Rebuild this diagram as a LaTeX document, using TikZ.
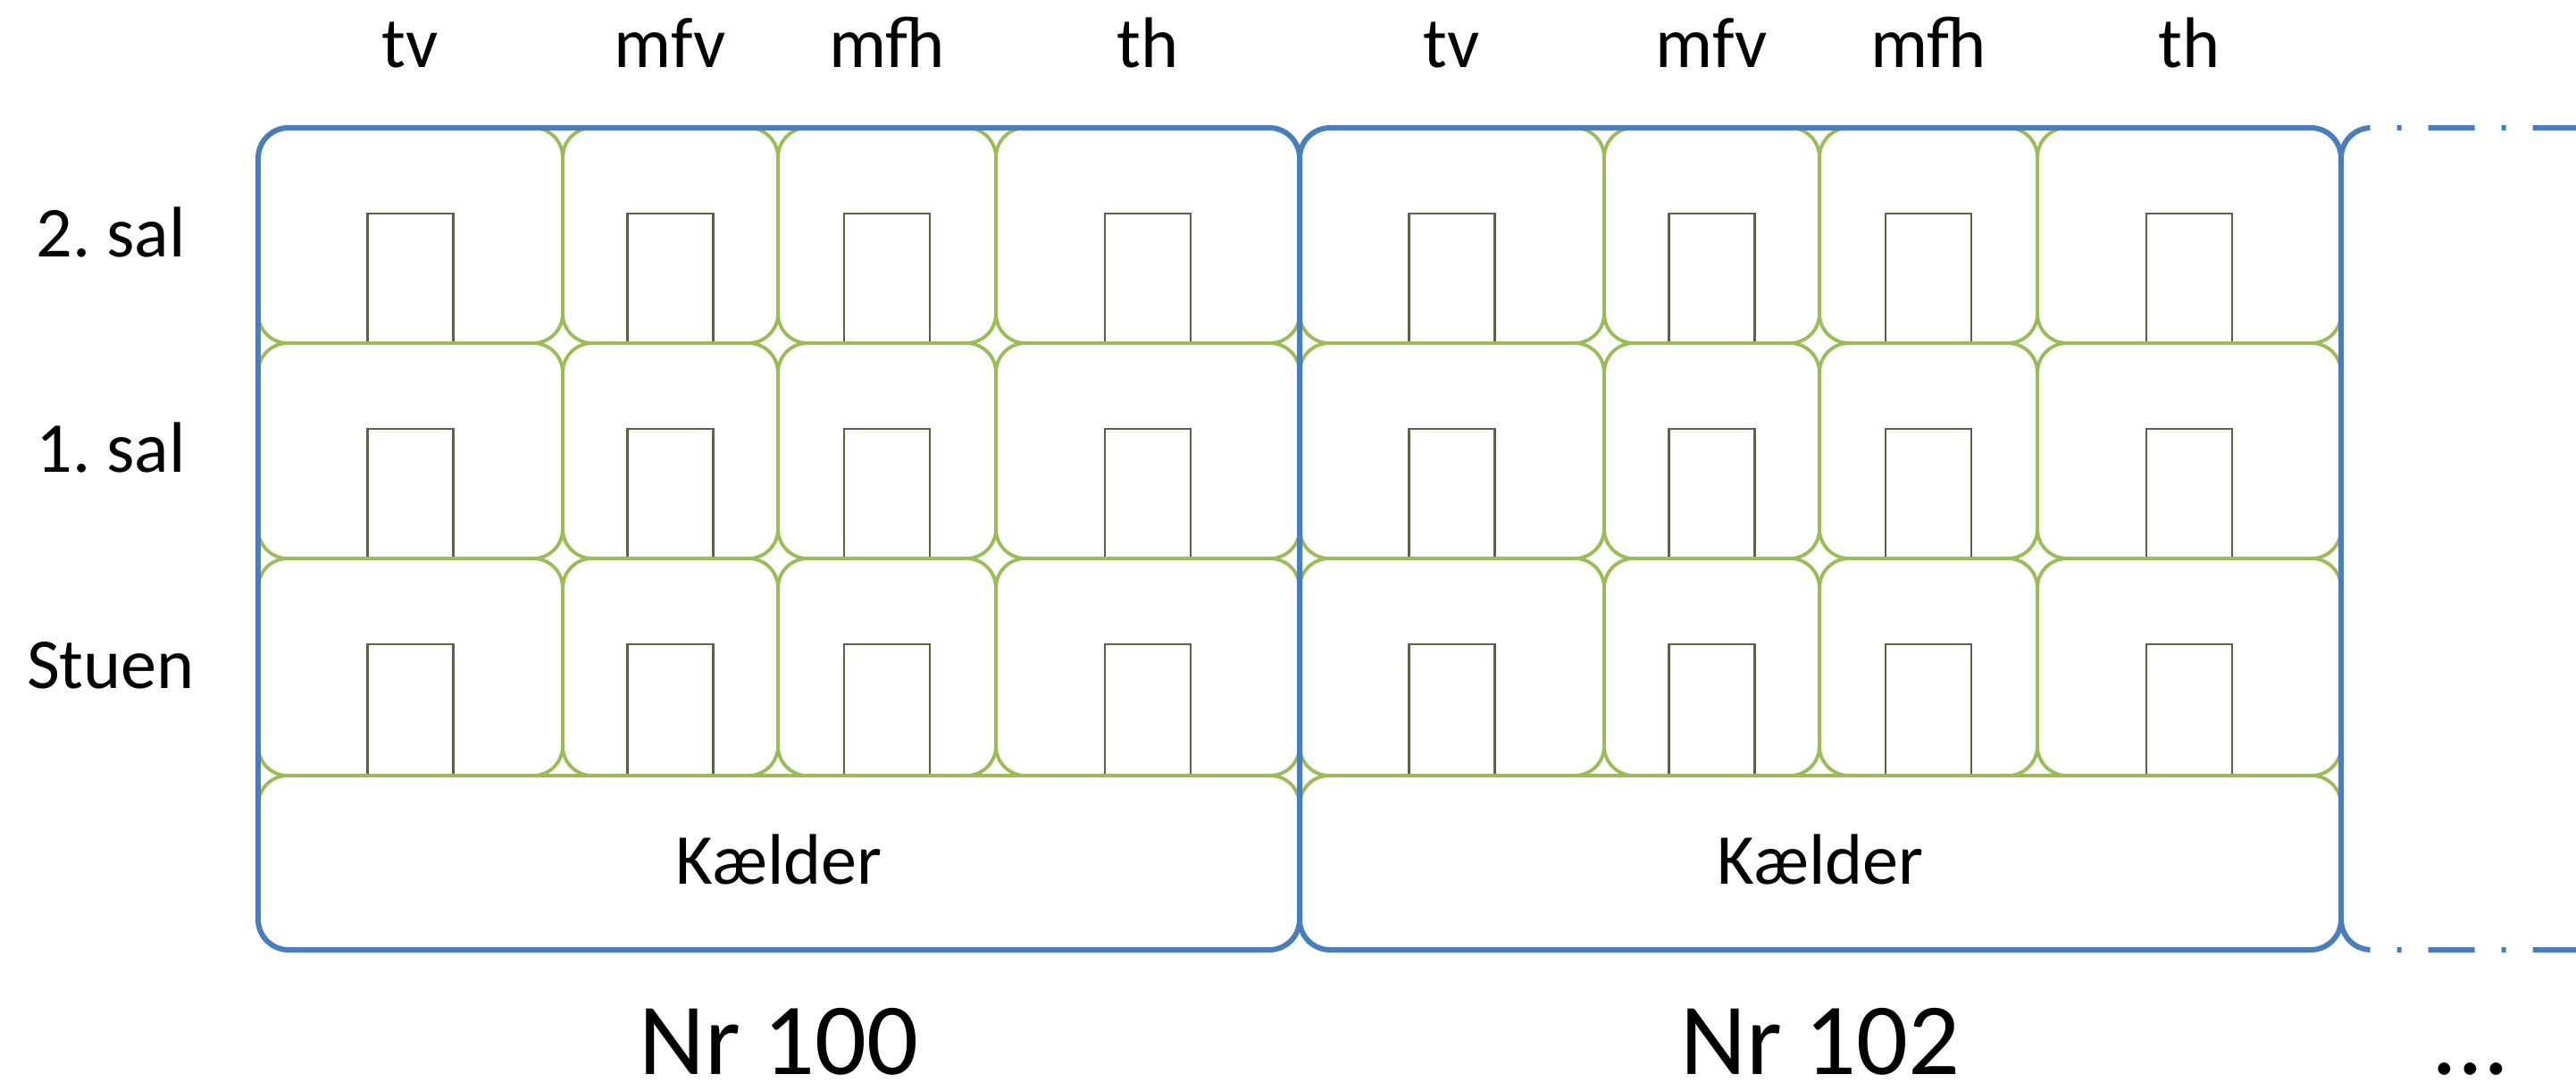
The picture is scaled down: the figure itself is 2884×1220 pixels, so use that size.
\documentclass[tikz,border=0pt]{standalone}
\usepackage{fontspec}
\setmainfont{Carlito}
\definecolor{bblue}{HTML}{4A7EBB}
\definecolor{cgreen}{HTML}{9BBB59}
\definecolor{doorc}{RGB}{95,95,75}
\begin{document}
\frenchspacing
\begin{tikzpicture}[x=0.01cm,y=-0.01cm,
  building/.style={draw=bblue, line width=1.7pt, rounded corners=0.34cm},
  ghost/.style={draw=bblue, line width=1.7pt, dash pattern=on 0.52cm off 0.30cm on 0.05cm off 0.30cm},
  cell/.style={draw=cgreen, line width=1.1pt, rounded corners=0.33cm},
  doorbox/.style={draw=doorc, line width=0.6pt},
  lbl/.style={font=\fontsize{22.8}{27}\selectfont, anchor=base, inner sep=0pt},
  big/.style={font=\fontsize{32.5}{38}\selectfont, anchor=base, inner sep=0pt, text depth=0pt}]
\useasboundingbox (0,0) rectangle (2884,1220);

% green cells and doors
\foreach \bx/\bn in {289/a,1455/b}{
  \foreach \ca/\cb [count=\ci] in {0/341,341/582,582/826,826/1166}{
    \foreach \ra/\rb [count=\ri] in {143/384,384/625,625/868}{
      \draw[cell] (\bx+\ca,\ra) rectangle (\bx+\cb,\rb);
      \draw[doorbox] ({\bx+(\ca+\cb)/2-48},\ra+96) rectangle ({\bx+(\ca+\cb)/2+48},\rb);
    }
  }
  \draw[cell] (\bx,868) rectangle (\bx+1166,1063);
}

% third building (continuation, dash-dotted)
\begin{scope}
\clip (0,0) rectangle (2884,1220);
\draw[ghost] (2621,177) .. controls (2621,158) and (2636,143) .. (2655,143) -- (2884,143);
\draw[ghost] (2621,1029) .. controls (2621,1048) and (2636,1063) .. (2655,1063) -- (2884,1063);
\end{scope}

% buildings
\draw[building] (289,143) rectangle (1455,1063);
\draw[building] (1455,143) rectangle (2621,1063);

% column labels
\foreach \bx/\bn in {289/a,1455/b}{
  \node[lbl] (tv\bn)  at (\bx+170,75) {tv};
  \node[lbl] (mfv\bn) at (\bx+461,75) {mfv};
  \node[lbl] (mfh\bn) at (\bx+704,75) {mfh};
  \node[lbl] (th\bn)  at (\bx+996,75) {th};
  \node[lbl] (k\bn)   at (\bx+583,989) {Kælder};
}

% floor labels
\node[lbl] (sal2)  at (124,287) {2. sal};
\node[lbl] (sal1)  at (124,528) {1. sal};
\node[lbl] (stuen) at (124,770) {Stuen};

% house numbers
\node[big] (nr100) at (872,1202) {Nr 100};
\node[big] (nr102) at (2038,1202) {Nr 102};
\node[big] (more)  at (2766,1202) {...};
\end{tikzpicture}
\end{document}
